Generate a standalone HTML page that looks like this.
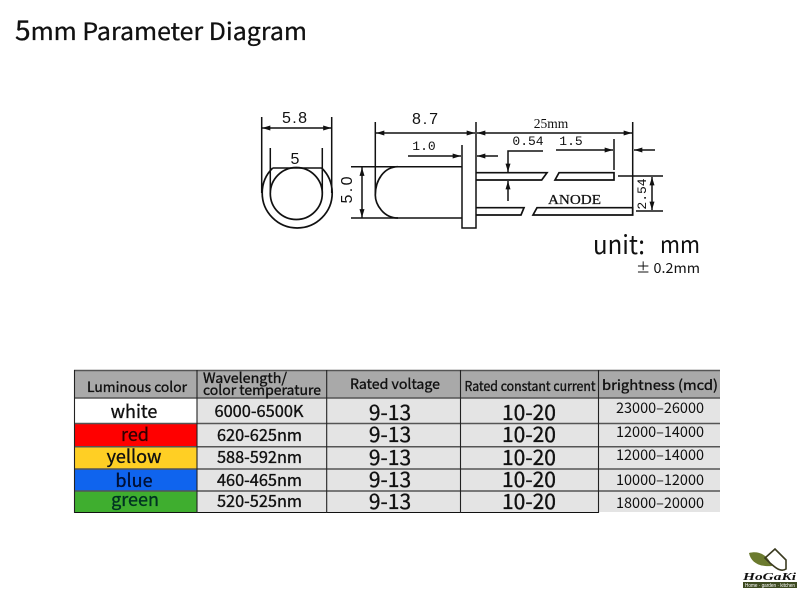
<!DOCTYPE html>
<html><head><meta charset="utf-8"><style>
html,body{margin:0;padding:0;background:#fff}
svg{display:block}
text{font-family:"Noto Sans CJK SC","Liberation Sans",sans-serif;fill:#111}
.c{text-anchor:middle}
.b text{stroke:#111;stroke-width:.35}
</style></head><body>
<svg width="800" height="600" viewBox="0 0 800 600" xmlns="http://www.w3.org/2000/svg">
<defs>
<marker id="a" viewBox="0 0 10 6" refX="10" refY="3" markerWidth="9" markerHeight="5" markerUnits="userSpaceOnUse" orient="auto-start-reverse"><path d="M0 0L10 3L0 6z" fill="#111"/></marker>
</defs>
<rect width="800" height="600" fill="#fff"/>
<text x="15" y="40" font-size="24" textLength="292" lengthAdjust="spacingAndGlyphs" style="stroke:#111;stroke-width:.3"><tspan font-size="27">5</tspan>mm Parameter Diagram</text>

<g fill="none" stroke="#111" stroke-width="1.5">
<!-- front view -->
<path d="M261.7 117V193M331.7 117V193M270.3 148V193M322.3 148V193"/>
<path d="M262 128H331.5" marker-start="url(#a)" marker-end="url(#a)"/>
<path d="M272.7 168H321.7"/>
<path d="M272.7 168A35 35 0 1 0 321.7 168" stroke-width="1.7"/>
<circle cx="296.3" cy="193.5" r="26" stroke-width="1.7"/>
<!-- side view -->
<path d="M375.3 122V195M476 122V228H462V145"/>
<path d="M376 133H475" marker-start="url(#a)" marker-end="url(#a)"/>
<path d="M408 156H461" marker-end="url(#a)"/>
<path d="M351 166.7H462M351 218H462"/>
<path d="M398 166.7C384 167 375.3 180 375.3 195C375.3 205 384 218 398 218" stroke-width="1.7"/>
<path d="M362 167.5V217.5" marker-start="url(#a)" marker-end="url(#a)"/>
<!-- leads -->
<path d="M476 172.7H547L541.7 180H476M559 172.7H614V180H555Z" stroke-width="1.7"/>
<path d="M476 207.7H524L521 215H476M537 207.7H632.7V215H533Z" stroke-width="1.7"/>
<path d="M632.7 122V215M614 139V170"/>
<path d="M477 133H632" marker-start="url(#a)" marker-end="url(#a)"/>
<path d="M556 150H613" marker-end="url(#a)"/>
<path d="M655 150H634" marker-end="url(#a)"/>
<path d="M498 156H477" marker-end="url(#a)"/>
<path d="M543 151H508V172" marker-end="url(#a)"/>
<path d="M508 201V181" marker-end="url(#a)"/>
<path d="M618 176H663M636 211H663"/>
<path d="M652 177V210" marker-start="url(#a)" marker-end="url(#a)"/>
</g>
<g style="font-family:'Liberation Sans'">
<text class="c" x="294.5" y="123" style="font-family:'Liberation Sans'" font-size="16" textLength="25" lengthAdjust="spacing">5.8</text>
<text class="c" x="295" y="164" style="font-family:'Liberation Sans'" font-size="16">5</text>
<text class="c" x="425" y="124" style="font-family:'Liberation Sans'" font-size="16" textLength="26" lengthAdjust="spacing">8.7</text>
<text class="c" x="424" y="150" style="font-family:'Liberation Mono'" font-size="13">1.0</text>
<text class="c" transform="translate(352 190) rotate(-90)" x="0" y="0" style="font-family:'Liberation Sans'" font-size="16" textLength="27" lengthAdjust="spacing">5.0</text>
<text class="c" x="551" y="128" style="font-family:'Liberation Serif'" font-size="13.5">25mm</text>
<text class="c" x="528" y="145" style="font-family:'Liberation Mono'" font-size="13">0.54</text>
<text class="c" x="571" y="145" style="font-family:'Liberation Mono'" font-size="13">1.5</text>
<text class="c" x="574.5" y="204" style="font-family:'Liberation Serif';stroke:#111;stroke-width:.25" font-size="14" textLength="53" lengthAdjust="spacingAndGlyphs">ANODE</text>
<text class="c" x="0" y="0" transform="translate(646 194) rotate(-90)" style="font-family:'Liberation Mono'" font-size="13">2.54</text>
</g>
<text x="593" y="254" font-size="26" textLength="52" lengthAdjust="spacingAndGlyphs">unit:</text>
<text x="660" y="253" font-size="23" textLength="40" lengthAdjust="spacingAndGlyphs">mm</text>
<text x="636" y="273" font-size="14" textLength="64" lengthAdjust="spacingAndGlyphs">± 0.2mm</text>

<!-- table -->
<rect x="74" y="370" width="646" height="28" fill="#a9a9a9"/>
<rect x="74" y="398" width="123" height="25" fill="#fff"/>
<rect x="74" y="423" width="123" height="24" fill="#ff0000"/>
<rect x="74" y="447" width="123" height="22" fill="#ffcf24"/>
<rect x="74" y="469" width="123" height="22" fill="#0f64ee"/>
<rect x="74" y="491" width="123" height="21" fill="#3fae2f"/>
<rect x="197" y="398" width="523" height="114" fill="#e4e4e4"/>
<g fill="none" stroke="#333" stroke-width="1.1">
<path d="M74 370.5H720" stroke="#555" stroke-width="1.5"/>
<path d="M74 398H720" stroke="#555" stroke-width="1.5"/>
<path d="M74 423.5H720M74 446.8H720M74 469H720M74 491H720" stroke="#555" stroke-width="1.5"/>
<path d="M74 512.5H598" stroke="#111"/>
<path d="M74.5 370V513M197 370V513M326.7 370V513M460.5 370V513M598.5 370V513" stroke="#222"/>
</g>
<g font-size="14" class="b">
<text class="c" x="137" y="392" textLength="100" lengthAdjust="spacingAndGlyphs">Luminous color</text>
<text class="c" x="245" y="383" font-size="14" textLength="84" lengthAdjust="spacingAndGlyphs">Wavelength/</text>
<text class="c" x="262" y="395" font-size="14" textLength="118" lengthAdjust="spacingAndGlyphs">color temperature</text>
<text class="c" x="395" y="389" textLength="90" lengthAdjust="spacingAndGlyphs">Rated voltage</text>
<text class="c" x="530" y="391" font-size="13.5" textLength="131" lengthAdjust="spacingAndGlyphs">Rated constant current</text>
<text class="c" x="660" y="390" textLength="116" lengthAdjust="spacingAndGlyphs">brightness (mcd)</text>
</g>
<g font-size="18" class="b">
<text class="c" x="134" y="418">white</text>
<text class="c" x="135" y="441" style="fill:#300;stroke:#300">red</text>
<text class="c" x="134" y="463">yellow</text>
<text class="c" x="134" y="487" style="fill:#001035;stroke:#001035">blue</text>
<text class="c" x="135" y="506" style="fill:#032;stroke:#032">green</text>
</g>
<g font-size="16.5" class="b">
<text class="c" x="259" y="417" textLength="89" lengthAdjust="spacingAndGlyphs">6000-6500K</text>
<text class="c" x="259.5" y="441" textLength="85" lengthAdjust="spacingAndGlyphs">620-625nm</text>
<text class="c" x="259.5" y="463" textLength="85" lengthAdjust="spacingAndGlyphs">588-592nm</text>
<text class="c" x="259.5" y="486" textLength="85" lengthAdjust="spacingAndGlyphs">460-465nm</text>
<text class="c" x="259.5" y="507" textLength="85" lengthAdjust="spacingAndGlyphs">520-525nm</text>
</g>
<g font-size="21" class="b">
<text class="c" x="390" y="420">9-13</text>
<text class="c" x="390" y="442">9-13</text>
<text class="c" x="390" y="465">9-13</text>
<text class="c" x="390" y="487">9-13</text>
<text class="c" x="390" y="509">9-13</text>
<text class="c" x="529" y="420">10-20</text>
<text class="c" x="529" y="442">10-20</text>
<text class="c" x="529" y="465">10-20</text>
<text class="c" x="529" y="487">10-20</text>
<text class="c" x="529" y="509">10-20</text>
</g>
<g font-size="14.5" style="fill:#222">
<text class="c" x="660" y="413" textLength="88" lengthAdjust="spacingAndGlyphs">23000–26000</text>
<text class="c" x="660" y="437" textLength="88" lengthAdjust="spacingAndGlyphs">12000–14000</text>
<text class="c" x="660" y="460" textLength="88" lengthAdjust="spacingAndGlyphs">12000–14000</text>
<text class="c" x="660" y="485" textLength="88" lengthAdjust="spacingAndGlyphs">10000–12000</text>
<text class="c" x="660" y="508" textLength="88" lengthAdjust="spacingAndGlyphs">18000–20000</text>
</g>
<!-- logo -->
<path d="M749 553C760 550 768 556 772 566C760 567 751 563 749 553Z" fill="#6b7a2e"/>
<path d="M765 558L775 549L786 560V569C780 573 774 566 770 563Z" fill="none" stroke="#3a3a20" stroke-width="1.6"/>
<text x="743" y="580" style="font-family:'Liberation Serif';font-style:italic;font-weight:bold" font-size="11" textLength="53" lengthAdjust="spacingAndGlyphs">HoGaKi</text>
<rect x="743" y="582" width="54" height="6" fill="#3d4a20"/>
<text x="745" y="587" style="font-family:'Liberation Sans';fill:#fff" font-size="5" textLength="50" lengthAdjust="spacingAndGlyphs">Home · garden · kitchen</text>
</svg>
</body></html>
